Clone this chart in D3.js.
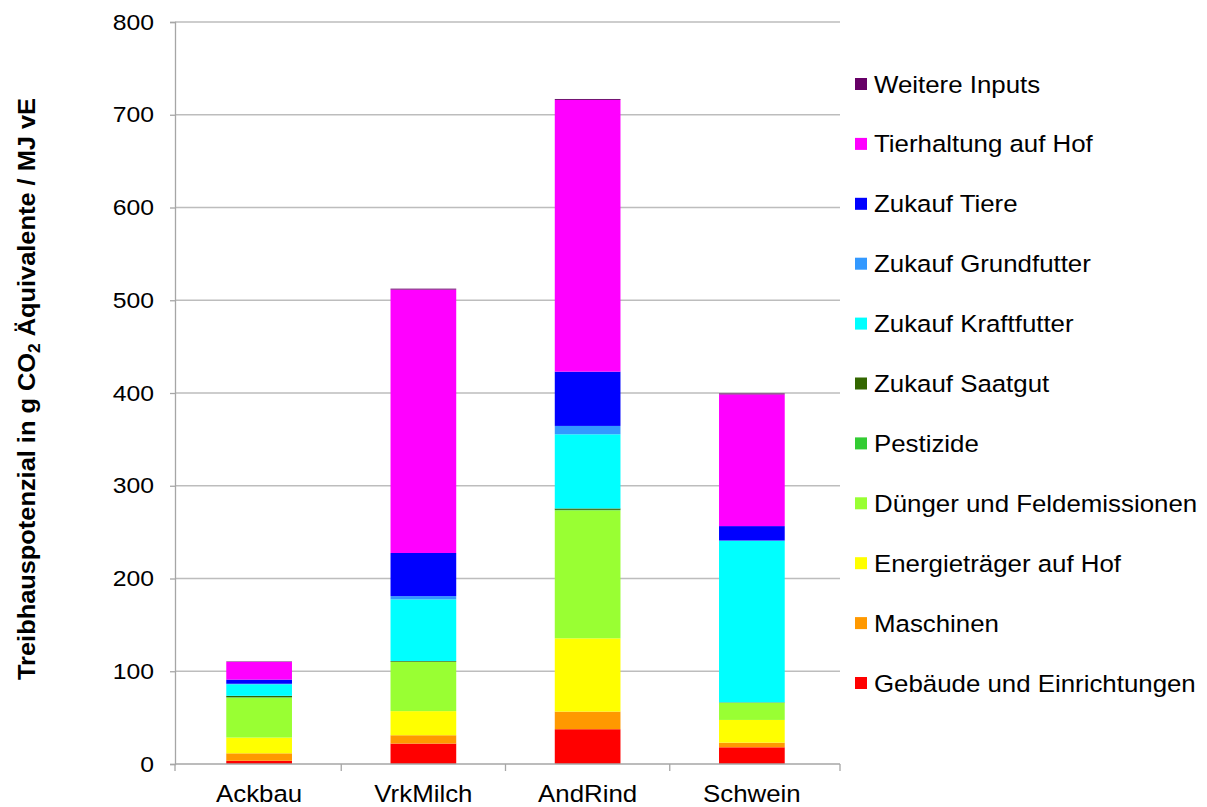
<!DOCTYPE html>
<html>
<head>
<meta charset="utf-8">
<script src="https://cdn.jsdelivr.net/npm/d3@7"></script>
<style>
  body { margin: 0; background: #fff; }
  svg { display: block; font-family: "Liberation Sans", Arial, sans-serif; }
</style>
</head>
<body>
<svg id="chart" width="1207" height="807"></svg>
<script>
// Farm types on the x axis
const categories = ["Ackbau", "VrkMilch", "AndRind", "Schwein"];

// Emission sources, stacked from bottom to top
const seriesNames = [
  "Gebäude und Einrichtungen",
  "Maschinen",
  "Energieträger auf Hof",
  "Dünger und Feldemissionen",
  "Pestizide",
  "Zukauf Saatgut",
  "Zukauf Kraftfutter",
  "Zukauf Grundfutter",
  "Zukauf Tiere",
  "Tierhaltung auf Hof",
  "Weitere Inputs"
];

const seriesColors = [
  "#FF0000", "#FF9900", "#FFFF00", "#99FF33", "#33CC33", "#336600",
  "#00FFFF", "#3399FF", "#0000FF", "#FF00FF", "#660066"
];

// g CO2-eq / MJ per source, one array per farm type (same order as seriesNames)
const ackbau   = [3.5, 8, 17, 43, 0.5, 1.5, 12.5, 0.5, 4.5, 19, 0.5];
const vrkMilch = [22, 9, 26, 53, 0.3, 0.7, 66.5, 3.5, 46.5, 284, 1];
const andRind  = [37.5, 19, 79, 138, 0.5, 1.5, 80, 9, 58.5, 293, 1];
const schwein  = [18, 5, 24.5, 18.5, 0.2, 0.3, 174, 0.5, 15.5, 142, 1];

const yTicks = [0, 100, 200, 300, 400, 500, 600, 700, 800];

const valuesByCategory = [ackbau, vrkMilch, andRind, schwein];
const rows = categories.map((c, i) => {
  const r = { cat: c };
  seriesNames.forEach((s, j) => r[s] = valuesByCategory[i][j]);
  return r;
});

const svg = d3.select("#chart");
const plotLeft = 175, plotRight = 840, plotTop = 22, plotBottom = 764;
const FS = 22.5, FS_L = 23.5, SX = 1.1;   // label font sizes and horizontal widening

const x = d3.scaleBand().domain(categories)
  .range([177, 834]).paddingInner(0.6).paddingOuter(0.3);
const y = d3.scaleLinear().domain([0, 800]).range([plotBottom, plotTop]);

// Horizontal gridlines
svg.append("g")
  .selectAll("line").data(yTicks.slice(1)).join("line")
  .attr("x1", plotLeft).attr("x2", plotRight)
  .attr("y1", d => y(d)).attr("y2", d => y(d))
  .attr("stroke", "#bdbdbd").attr("stroke-width", 1.3);

// Stacked bars
const layers = d3.stack().keys(seriesNames)(rows);
svg.append("g")
  .selectAll("g").data(layers).join("g")
  .attr("fill", (d, i) => seriesColors[i])
  .selectAll("rect").data(d => d).join("rect")
  .attr("x", d => x(d.data.cat))
  .attr("width", x.bandwidth())
  .attr("y", d => y(d[1]))
  .attr("height", d => Math.max(0, y(d[0]) - y(d[1])));

// Y axis
const yAxis = svg.append("g")
  .attr("transform", `translate(${plotLeft},0)`)
  .call(d3.axisLeft(y).tickValues(yTicks).tickSize(5).tickFormat(d3.format("d")));
yAxis.select(".domain").attr("stroke", "#a6a6a6").attr("stroke-width", 1.3);
yAxis.selectAll(".tick line").attr("stroke", "#a6a6a6").attr("stroke-width", 1.3);
yAxis.selectAll(".tick text")
  .attr("font-size", FS).attr("fill", "#000")
  .attr("font-family", "'Liberation Sans', Arial, sans-serif")
  .attr("x", -21 / SX)
  .attr("transform", `scale(${SX},1)`);

// X axis with boundary tick marks between categories
const xAxisG = svg.append("g").attr("transform", `translate(0,${y(0)})`);
xAxisG.append("line")
  .attr("x1", plotLeft).attr("x2", plotRight)
  .attr("stroke", "#a6a6a6").attr("stroke-width", 1.3);
const boundaries = [plotLeft]
  .concat(categories.slice(1).map(c => x(c) - x.step() * x.paddingInner() / 2))
  .concat([plotRight]);
xAxisG.selectAll("line.b").data(boundaries).join("line").attr("class", "b")
  .attr("x1", d => d).attr("x2", d => d).attr("y1", 0).attr("y2", 7)
  .attr("stroke", "#a6a6a6").attr("stroke-width", 1.3);
xAxisG.selectAll("text").data(categories).join("text")
  .attr("transform", d => `translate(${x(d) + x.bandwidth() / 2},38) scale(${SX},1)`)
  .attr("text-anchor", "middle")
  .attr("font-size", FS_L)
  .attr("fill", "#000")
  .text(d => d);

// Y axis title with subscript
const title = svg.append("text")
  .attr("transform", `translate(35,389) rotate(-90)`)
  .attr("text-anchor", "middle")
  .attr("font-weight", "bold")
  .attr("font-size", 23.5)
  .attr("fill", "#000")
  .attr("textLength", 582)
  .attr("lengthAdjust", "spacingAndGlyphs");
title.append("tspan").text("Treibhauspotenzial  in g CO");
title.append("tspan").attr("font-size", 16).attr("dy", 5).text("2");
title.append("tspan").attr("dy", -5).text(" Äquivalente / MJ vE");

// Legend, top entry is the top of the stack
const legendItems = seriesNames.map((n, i) => ({ name: n, color: seriesColors[i] })).reverse();
const lg = svg.append("g").selectAll("g").data(legendItems).join("g")
  .attr("transform", (d, i) => `translate(855,${84 + i * 59.9})`);
lg.append("rect").attr("x", 0).attr("y", -6).attr("width", 12).attr("height", 12)
  .attr("fill", d => d.color);
lg.append("text")
  .attr("transform", `translate(19,8.5) scale(${SX},1)`)
  .attr("font-size", FS_L).attr("fill", "#000")
  .text(d => d.name);
</script>
</body>
</html>
